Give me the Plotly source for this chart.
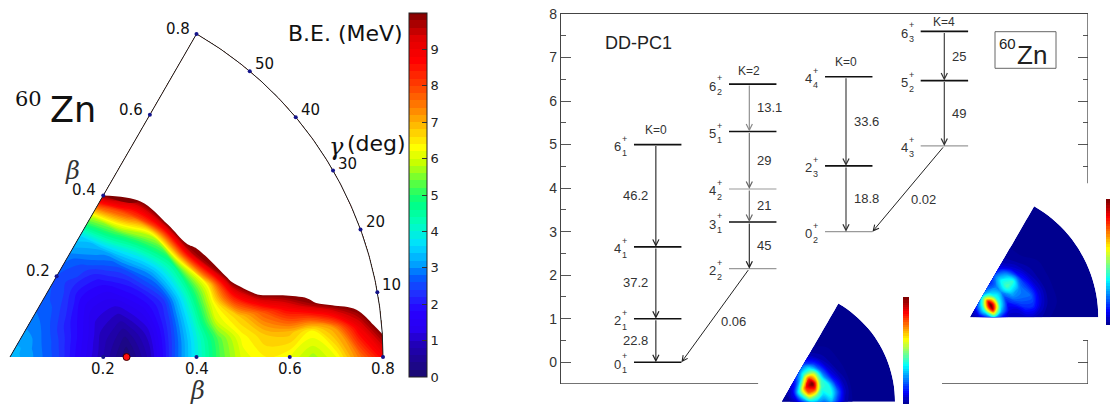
import numpy as np
import plotly.graph_objects as go

W, H = 1110, 405

# ---------------- data: B.E. surface of 60Zn in the beta-gamma plane ----------------
beta = [0.00, 0.05, 0.10, 0.15, 0.20, 0.25, 0.30, 0.35, 0.40,
        0.45, 0.50, 0.55, 0.60, 0.65, 0.70, 0.75, 0.80]
gamma = [0, 5, 10, 15, 20, 30, 40, 50, 60]
# one row per beta value, columns follow gamma (MeV); values > 10 are outside the map
be_rows = [
    [3.35, 3.35, 3.35, 3.35, 3.35, 3.35, 3.35, 3.35, 3.35],
    [3.0, 3.0, 3.0, 3.0, 3.0, 3.05, 3.1, 3.1, 3.1],
    [2.5, 2.5, 2.5, 2.52, 2.55, 2.6, 2.7, 2.8, 2.85],
    [1.6, 1.65, 1.7, 1.78, 1.85, 2.0, 2.3, 2.55, 2.65],
    [0.8, 0.85, 0.9, 1.0, 1.1, 1.4, 1.8, 2.3, 2.6],
    [0.05, 0.2, 0.4, 0.65, 0.9, 1.4, 1.9, 2.5, 2.9],
    [0.9, 1.0, 1.1, 1.3, 1.5, 2.0, 2.6, 3.2, 3.6],
    [2.5, 2.45, 2.4, 2.35, 2.3, 3.0, 4.0, 5.2, 6.0],
    [3.9, 3.9, 4.0, 4.1, 4.2, 4.6, 5.8, 8.0, 10.0],
    [5.2, 5.3, 6.0, 6.2, 6.3, 9.7, 10.8, 10.8, 11.5],
    [6.1, 6.3, 6.8, 8.6, 10.3, 10.8, 11.5, 11.5, 11.5],
    [6.4, 6.8, 7.8, 10.5, 11.0, 11.5, 11.5, 11.5, 11.5],
    [6.2, 6.9, 8.8, 11.0, 11.0, 11.5, 11.5, 11.5, 11.5],
    [5.7, 6.4, 9.7, 11.0, 11.0, 11.5, 11.5, 11.5, 11.5],
    [6.2, 7.2, 10.6, 11.0, 11.0, 11.5, 11.5, 11.5, 11.5],
    [7.5, 9.0, 10.8, 11.0, 11.0, 11.5, 11.5, 11.5, 11.5],
    [8.8, 10.5, 11.0, 11.0, 11.0, 11.5, 11.5, 11.5, 11.5],
]
be_cut = 10.0
be_ticks = [0, 1, 2, 3, 4, 5, 6, 7, 8, 9]
beta_ticks = [0.2, 0.4, 0.6, 0.8]
gamma_ticks = [10, 20, 30, 40, 50]
be_minimum = (0.25, 0.0)   # (beta, gamma)

# ---------------- data: collective wave functions (insets) ----------------
dens_gamma = [0, 10, 20, 30, 40, 50, 60]
dens_ground = [  # 0+_1
    [0, 0, 0, 0, 0, 0, 0],
    [0.01, 0.01, 0.01, 0.01, 0.01, 0.01, 0.01],
    [0.06, 0.08, 0.10, 0.10, 0.08, 0.06, 0.05],
    [0.18, 0.30, 0.40, 0.42, 0.28, 0.14, 0.08],
    [0.30, 0.55, 0.75, 0.80, 0.55, 0.28, 0.15],
    [0.28, 0.45, 0.75, 1.00, 0.78, 0.42, 0.20],
    [0.22, 0.32, 0.40, 0.50, 0.55, 0.35, 0.18],
    [0.28, 0.38, 0.36, 0.24, 0.20, 0.15, 0.08],
    [0.14, 0.20, 0.14, 0.08, 0.06, 0.04, 0.02],
    [0.03, 0.05, 0.04, 0.02, 0.01, 0.01, 0.00],
    [0, 0, 0, 0, 0, 0, 0],
    [0, 0, 0, 0, 0, 0, 0],
    [0, 0, 0, 0, 0, 0, 0],
    [0, 0, 0, 0, 0, 0, 0],
    [0, 0, 0, 0, 0, 0, 0],
    [0, 0, 0, 0, 0, 0, 0],
    [0, 0, 0, 0, 0, 0, 0],
]
dens_excited = [  # 0+_2
    [0, 0, 0, 0, 0, 0, 0],
    [0.05, 0.06, 0.08, 0.08, 0.08, 0.07, 0.06],
    [0.15, 0.25, 0.35, 0.38, 0.35, 0.30, 0.20],
    [0.30, 0.60, 0.90, 1.00, 0.85, 0.55, 0.30],
    [0.12, 0.25, 0.35, 0.40, 0.38, 0.30, 0.20],
    [0.04, 0.08, 0.12, 0.18, 0.25, 0.22, 0.14],
    [0.04, 0.08, 0.18, 0.28, 0.42, 0.34, 0.18],
    [0.05, 0.14, 0.20, 0.24, 0.38, 0.25, 0.10],
    [0.04, 0.14, 0.20, 0.16, 0.12, 0.07, 0.03],
    [0.02, 0.06, 0.08, 0.06, 0.04, 0.02, 0.01],
    [0.00, 0.01, 0.02, 0.01, 0.01, 0.00, 0.00],
    [0, 0, 0, 0, 0, 0, 0],
    [0, 0, 0, 0, 0, 0, 0],
    [0, 0, 0, 0, 0, 0, 0],
    [0, 0, 0, 0, 0, 0, 0],
    [0, 0, 0, 0, 0, 0, 0],
    [0, 0, 0, 0, 0, 0, 0],
]

# ---------------- data: level scheme (DD-PC1) ----------------
band_K = [0, 2, 0, 4]
# levels: spin J, index, band, energy (MeV)
lev_J = [0, 2, 4, 6, 2, 3, 4, 5, 6, 0, 2, 4, 4, 5, 6]
lev_idx = [1, 1, 1, 1, 2, 1, 2, 1, 2, 2, 3, 4, 3, 2, 3]
lev_band = [0, 0, 0, 0, 1, 1, 1, 1, 1, 2, 2, 2, 3, 3, 3]
lev_E = [0.00, 1.00, 2.65, 5.00, 2.15, 3.22, 3.98, 5.30, 6.39, 3.00, 4.51, 6.56, 4.97, 6.47, 7.60]
# in-band transitions: (from level, to level, B(E2) value)
tr_from = [3, 2, 1, 8, 7, 6, 5, 11, 10, 14, 13]
tr_to = [2, 1, 0, 7, 6, 5, 4, 10, 9, 13, 12]
tr_val = ["46.2", "37.2", "22.8", "13.1", "29", "21", "45", "33.6", "18.8", "25", "49"]
# inter-band transitions
ib_from = [4, 12]
ib_to = [0, 9]
ib_val = ["0.06", "0.02"]

# ---------------- styles / layout positions ----------------
lev_gray = [False, False, False, False, True, False, True, False, False, True, False, False, True, False, False]
tr_color = ["#222", "#222", "#222", "#888", "#666", "#666", "#222", "#333", "#333", "#333", "#333"]
band_left = [1.385, 3.188, 5.01, 6.825]   # x position of each band column (axis units)
band_w = 0.9
band_arrow = [1.80, 3.573, 5.408, 7.273]
band_label_side = ["left", "right", "right", "right"]
k_shift = [15, 13, 15, 9]
ib_shift = [(18, -6), (15, -11)]

BE_SCALE = [
    [0.0, "#1a0a6e"], [0.09, "#2100b8"], [0.13, "#2800f0"], [0.18, "#2800ff"],
    [0.23, "#2030ff"], [0.275, "#0060ff"], [0.31, "#00a0ff"], [0.365, "#00e0ff"],
    [0.42, "#00ffc0"], [0.48, "#00ff80"], [0.52, "#40ff50"], [0.56, "#90ff20"],
    [0.59, "#c8ff00"], [0.63, "#ffff00"], [0.70, "#ffb000"], [0.74, "#ff8000"],
    [0.80, "#ff4000"], [0.87, "#ff0000"], [0.93, "#e00000"], [1.0, "#800000"],
]
JET = [[0.0, "#00008f"], [0.11, "#0000ff"], [0.36, "#00ffff"], [0.61, "#ffff00"],
       [0.86, "#ff0000"], [1.0, "#800000"]]

LFONT = "DejaVu Sans"
RFONT = "Liberation Sans"


def px(x):
    return x / W


def py(y):
    return 1 - y / H


def paper_text(x, y, text, family, size, color="#111"):
    return dict(x=px(x), y=py(y), xref="paper", yref="paper", text=text, showarrow=False,
                xanchor="center", yanchor="middle", font=dict(family=family, size=size, color=color))


fig = go.Figure()
hide_carpet_axis = dict(showgrid=False, showline=False, showticklabels="none",
                        startline=False, endline=False, minorgridcount=0)


def polar_grid(bvals, gvals):
    b = np.array(bvals)[None, :]
    g = np.radians(np.array(gvals))[:, None]
    return (b * np.cos(g)).tolist(), (b * np.sin(g)).tolist()


# ---- main B.E. map on a polar carpet ----
X, Y = polar_grid(beta, gamma)
Z = np.array(be_rows).T.tolist()
fig.add_trace(go.Carpet(a=beta, b=gamma, x=X, y=Y, carpet="c1",
                        aaxis=hide_carpet_axis, baxis=hide_carpet_axis,
                        xaxis="x", yaxis="y"))
fig.add_trace(go.Contourcarpet(
    a=beta, b=gamma, z=Z, carpet="c1", autocontour=False,
    contours=dict(start=0, end=be_cut, size=0.2, coloring="fill", showlines=False),
    line=dict(width=0), colorscale=BE_SCALE, zauto=False, zmin=0, zmax=be_cut,
    xaxis="x", yaxis="y",
    colorbar=dict(x=px(408.5), xanchor="left", xpad=0, y=py(13), yanchor="top", ypad=0,
                  len=364, lenmode="pixels", thickness=18, outlinewidth=1, outlinecolor="#222",
                  tickmode="array", tickvals=be_ticks, ticks="inside", ticklen=5,
                  tickcolor="#333", tickfont=dict(family=LFONT, size=13, color="#222")),
))
fig.add_trace(go.Contourcarpet(
    a=beta, b=gamma, z=Z, carpet="c1",
    contours=dict(type="constraint", operation="<", value=be_cut, showlines=False),
    fillcolor="white", line=dict(width=0), showscale=False, xaxis="x", yaxis="y"))

# frame of the sector: 60 deg edge and outer arc
arc_g = np.radians(np.linspace(0, 60, 121))
bmax = beta[-1]
fig.add_trace(go.Scatter(
    x=[0, bmax * np.cos(np.radians(60))] + [None] + list(bmax * np.cos(arc_g)),
    y=[0, bmax * np.sin(np.radians(60))] + [None] + list(bmax * np.sin(arc_g)),
    mode="lines", line=dict(color="#222", width=1), hoverinfo="skip",
    showlegend=False, xaxis="x", yaxis="y"))
# tick dots
tb = np.array(beta_ticks)
tg = np.radians(np.array(gamma_ticks))
dot_x = list(tb) + list(tb * np.cos(np.radians(60))) + list(bmax * np.cos(tg))
dot_y = [0] * len(tb) + list(tb * np.sin(np.radians(60))) + list(bmax * np.sin(tg))
fig.add_trace(go.Scatter(x=dot_x, y=dot_y, mode="markers",
                         marker=dict(color="#14148a", size=4), hoverinfo="skip",
                         showlegend=False, xaxis="x", yaxis="y"))
# minimum
fig.add_trace(go.Scatter(x=[be_minimum[0] * np.cos(np.radians(be_minimum[1]))],
                         y=[be_minimum[0] * np.sin(np.radians(be_minimum[1]))],
                         mode="markers", marker=dict(color="#ff1010", size=7,
                                                     line=dict(color="#400000", width=1)),
                         showlegend=False, hoverinfo="skip", xaxis="x", yaxis="y"))

annotations = []
for b in beta_ticks:
    annotations.append(dict(x=b, y=0, xref="x", yref="y", text=f"{b:.1f}", showarrow=False,
                            xanchor="center", yanchor="middle", yshift=-12,
                            font=dict(family=LFONT, size=15, color="#111")))
    annotations.append(dict(x=b * np.cos(np.radians(60)), y=b * np.sin(np.radians(60)),
                            xref="x", yref="y", text=f"{b:.1f}", showarrow=False,
                            xanchor="right", yanchor="middle", xshift=-5, yshift=5,
                            font=dict(family=LFONT, size=15, color="#111")))
for g in gamma_ticks:
    annotations.append(dict(x=bmax * np.cos(np.radians(g)), y=bmax * np.sin(np.radians(g)),
                            xref="x", yref="y", text=str(g), showarrow=False,
                            xanchor="left", yanchor="middle", xshift=3, yshift=7,
                            font=dict(family=LFONT, size=15, color="#111")))
annotations += [
    paper_text(345, 34, "B.E. (MeV)", LFONT, 22),
    paper_text(336, 147, "<i>γ</i>", "DejaVu Serif", 24),
    paper_text(377, 143, "(deg)", LFONT, 22),
    paper_text(72, 171, "<i>β</i>", "DejaVu Serif", 24, "#333"),
    paper_text(197, 391, "<i>β</i>", "DejaVu Serif", 24, "#333"),
    paper_text(28, 99, "60", "DejaVu Serif", 21),
    paper_text(73, 110, "Zn", LFONT, 35),
]

# ---- insets: collective wave functions ----
insets = [
    dict(rows=dens_ground, xa="x4", ya="y4", cid="c2",
         cb=dict(x=902.7, y=297.3, len=107)),
    dict(rows=dens_excited, xa="x5", ya="y5", cid="c3",
         cb=dict(x=1105.7, y=199.3, len=126)),
]
for ins in insets:
    Xd, Yd = polar_grid(beta, dens_gamma)
    Zd = np.array(ins["rows"]).T.tolist()
    fig.add_trace(go.Carpet(a=beta, b=dens_gamma, x=Xd, y=Yd, carpet=ins["cid"],
                            aaxis=hide_carpet_axis, baxis=hide_carpet_axis,
                            xaxis=ins["xa"], yaxis=ins["ya"]))
    fig.add_trace(go.Contourcarpet(
        a=beta, b=dens_gamma, z=Zd, carpet=ins["cid"], autocontour=False,
        contours=dict(start=0.0, end=1.0, size=0.02, coloring="fill", showlines=False),
        line=dict(width=0), colorscale=JET, zauto=False, zmin=0, zmax=0.97,
        xaxis=ins["xa"], yaxis=ins["ya"],
        colorbar=dict(x=px(ins["cb"]["x"]), xanchor="left", xpad=0, y=py(ins["cb"]["y"]),
                      yanchor="top", ypad=0, len=ins["cb"]["len"], lenmode="pixels",
                      thickness=6, outlinewidth=0, ticks="", showticklabels=False),
    ))

# ---- level scheme ----
for i, E in enumerate(lev_E):
    b = lev_band[i]
    fig.add_trace(go.Scatter(x=[band_left[b], band_left[b] + band_w], y=[E, E], mode="lines",
                             line=dict(color="#9a9a9a" if lev_gray[i] else "#111",
                                       width=1.2 if lev_gray[i] else 1.6),
                             hoverinfo="skip", showlegend=False, xaxis="x2", yaxis="y2"))
    lbl = dict(x=band_left[b], y=E, xref="x2", yref="y2", showarrow=False,
               xanchor="right", yanchor="middle")
    annotations.append(dict(lbl, text=str(lev_J[i]), xshift=-11, yshift=-2,
                            font=dict(family=RFONT, size=13, color="#333")))
    annotations.append(dict(lbl, text="+", xshift=-5, yshift=6,
                            font=dict(family=RFONT, size=9, color="#333")))
    annotations.append(dict(lbl, text=str(lev_idx[i]), xshift=-5, yshift=-8,
                            font=dict(family=RFONT, size=9, color="#333")))

for k, (f, t) in enumerate(zip(tr_from, tr_to)):
    b = lev_band[f]
    xa = band_arrow[b]
    annotations.append(dict(x=xa, y=lev_E[t], ax=xa, ay=lev_E[f], xref="x2", yref="y2",
                            axref="x2", ayref="y2", text="", showarrow=True, arrowhead=5,
                            arrowsize=1.1, arrowwidth=1.1, arrowcolor=tr_color[k], standoff=0))
    side = band_label_side[b]
    annotations.append(dict(x=xa, y=(lev_E[f] + lev_E[t]) / 2, xref="x2", yref="y2",
                            text=tr_val[k], showarrow=False,
                            xanchor="right" if side == "left" else "left",
                            xshift=-6 if side == "left" else 6, yanchor="middle",
                            font=dict(family=RFONT, size=13, color="#333")))

for k, (f, t) in enumerate(zip(ib_from, ib_to)):
    x0 = band_arrow[lev_band[f]]
    x1 = band_left[lev_band[t]] + band_w
    annotations.append(dict(x=x1, y=lev_E[t], ax=x0, ay=lev_E[f], xref="x2", yref="y2",
                            axref="x2", ayref="y2", text="", showarrow=True, arrowhead=5,
                            arrowsize=1.1, arrowwidth=1.0, arrowcolor="#222", standoff=0))
    annotations.append(dict(x=(x0 + x1) / 2, y=(lev_E[f] + lev_E[t]) / 2, xref="x2", yref="y2",
                            text=ib_val[k], showarrow=False, xanchor="center", yanchor="middle",
                            xshift=ib_shift[k][0], yshift=ib_shift[k][1],
                            font=dict(family=RFONT, size=13, color="#333")))

for b, K in enumerate(band_K):
    top = max(E for E, bb in zip(lev_E, lev_band) if bb == b)
    annotations.append(dict(x=band_arrow[b], y=top, xref="x2", yref="y2", text=f"K={K}",
                            showarrow=False, xanchor="center", yanchor="middle",
                            yshift=k_shift[b], font=dict(family=RFONT, size=12, color="#333")))

annotations += [
    paper_text(638, 43.5, "DD-PC1", RFONT, 18, "#222"),
    paper_text(1007.5, 43, "60", RFONT, 15, "#222"),
    paper_text(1032, 55, "Zn", RFONT, 26, "#222"),
]

# invisible trace so that the right-hand tick axis is built
fig.add_trace(go.Scatter(x=[None], y=[None], xaxis="x2", yaxis="y3", showlegend=False,
                         hoverinfo="skip"))

frame = dict(color="#444", width=1.3)
shapes = [
    dict(type="line", xref="x2", yref="y2", x0=0, x1=3.74, y0=-0.5, y1=-0.5, line=frame),
    dict(type="line", xref="x2", yref="y2", x0=7.23, x1=10, y0=-0.5, y1=-0.5, line=frame),
    dict(type="line", xref="x2", yref="y2", x0=10, x1=10, y0=8, y1=4.11, line=frame),
    dict(type="line", xref="x2", yref="y2", x0=10, x1=10, y0=0.505, y1=-0.5, line=frame),
    dict(type="rect", xref="paper", yref="paper", x0=px(995), x1=px(1056), y0=py(68.3),
         y1=py(31.7), line=dict(color="#666", width=1)),
]

s_left = 466.25  # pixels per unit beta, main map
s_in1 = 113.3 / 0.8
s_in2 = 128.3 / 0.8
noax = dict(visible=False, showgrid=False, zeroline=False, fixedrange=True)
fig.update_layout(
    width=W, height=H, autosize=False,
    margin=dict(l=0, r=0, t=0, b=0, pad=0, autoexpand=False),
    paper_bgcolor="white", plot_bgcolor="rgba(0,0,0,0)", showlegend=False,
    xaxis=dict(noax, domain=[0, px(400)], range=[-10 / s_left, 390 / s_left]),
    yaxis=dict(noax, domain=[0, 1], range=[-(H - 357) / s_left, 357 / s_left]),
    xaxis2=dict(domain=[px(561), px(1088)], range=[0, 10], anchor="y2", side="top",
                showline=True, linecolor="#444", linewidth=1.3, ticks="", showticklabels=False,
                showgrid=False, zeroline=False),
    yaxis2=dict(domain=[py(384), py(14)], range=[-0.5, 8], anchor="x2", showline=True,
                linecolor="#444", linewidth=1.3, ticks="inside", ticklen=10, tickcolor="#555",
                tickmode="linear", tick0=0, dtick=1, showgrid=False, zeroline=False,
                minor=dict(ticks="inside", ticklen=5, dtick=0.5, tickcolor="#555"),
                tickfont=dict(family=RFONT, size=14, color="#333")),
    yaxis3=dict(overlaying="y2", side="right", anchor="x2", range=[-0.5, 8],
                tickmode="array", tickvals=[0, 5, 6, 7, 8], ticks="inside", ticklen=10,
                tickcolor="#555", showticklabels=False, showline=False, showgrid=False,
                zeroline=False,
                minor=dict(tickmode="array", tickvals=[0.5, 4.5, 5.5, 6.5, 7.5],
                           ticks="inside", ticklen=5, tickcolor="#555")),
    xaxis4=dict(noax, domain=[px(775), px(900)], anchor="y4",
                range=[(775 - 781.7) / s_in1, (900 - 781.7) / s_in1]),
    yaxis4=dict(noax, domain=[py(405), py(295)], anchor="x4",
                range=[-(405 - 401.7) / s_in1, (401.7 - 295) / s_in1]),
    xaxis5=dict(noax, domain=[px(965), px(1102)], anchor="y5",
                range=[(965 - 970) / s_in2, (1102 - 970) / s_in2]),
    yaxis5=dict(noax, domain=[py(322), py(200)], anchor="x5",
                range=[-(322 - 317.3) / s_in2, (317.3 - 200) / s_in2]),
    annotations=annotations,
    shapes=shapes,
)

fig.write_html("out.html", config={"displayModeBar": False},
               post_script="document.body.style.margin='0px';document.body.style.padding='0px';")
